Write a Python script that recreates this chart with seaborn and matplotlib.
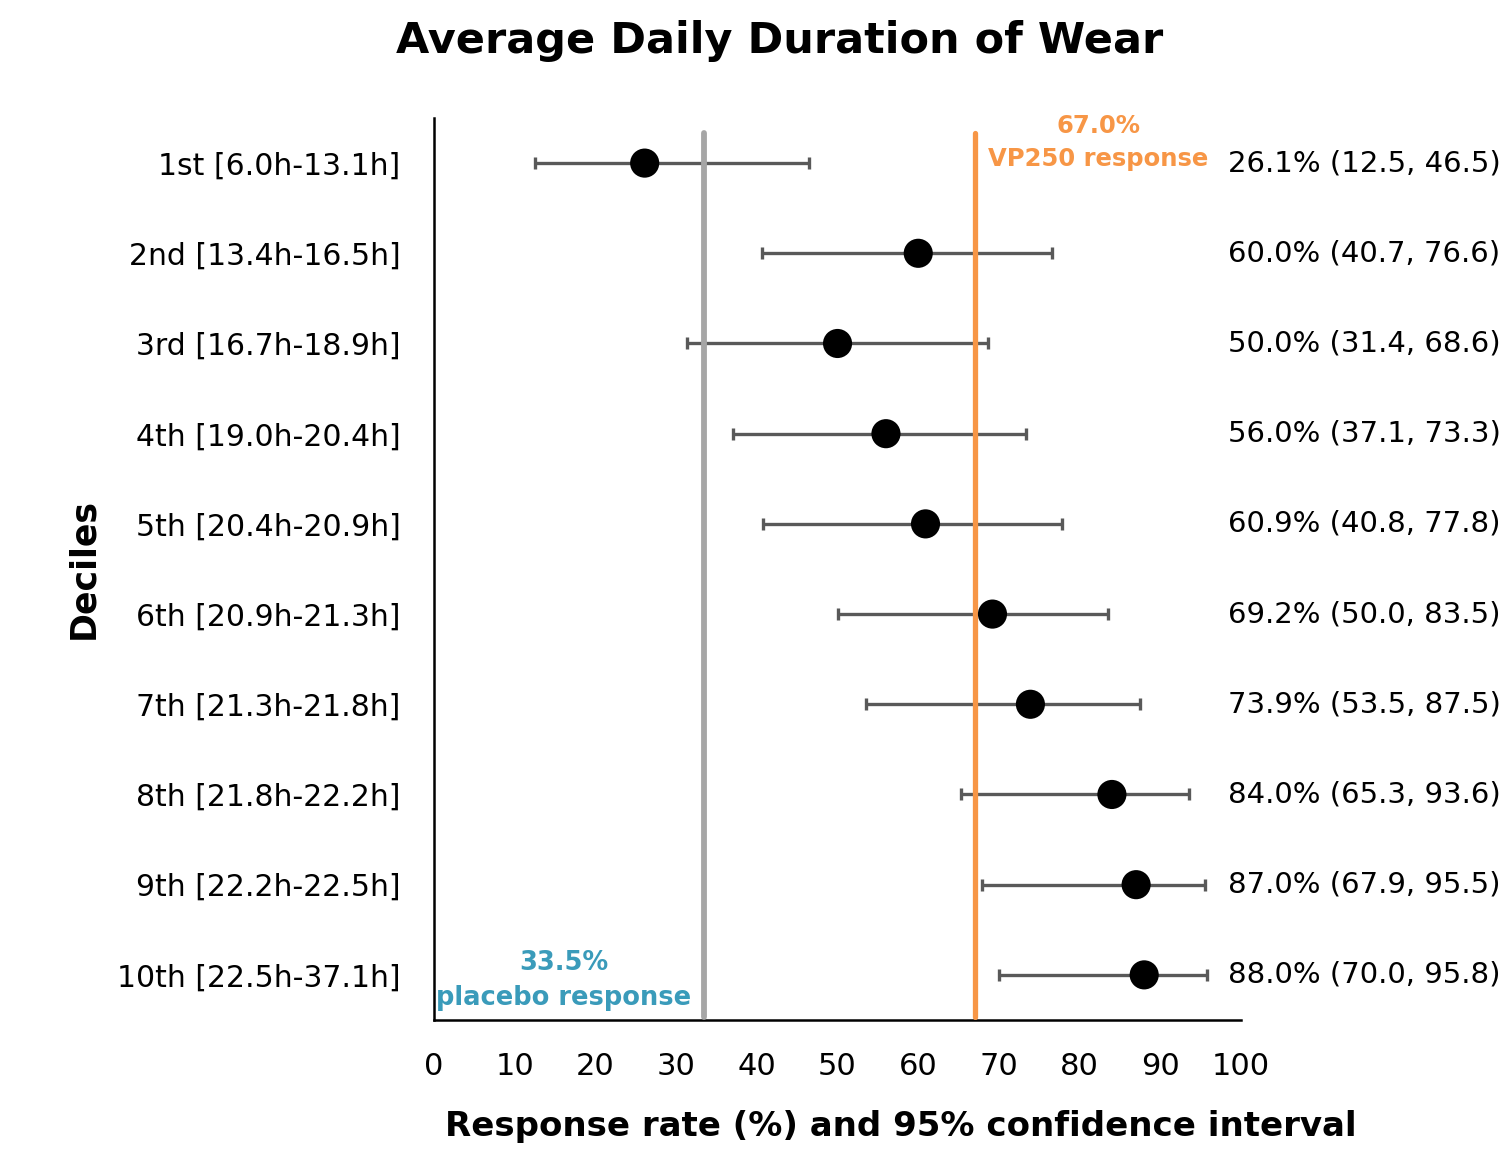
import matplotlib
matplotlib.use("Agg")
import matplotlib.pyplot as plt
import seaborn as sns
import pandas as pd

deciles = ["1st [6.0h-13.1h]", "2nd [13.4h-16.5h]", "3rd [16.7h-18.9h]",
           "4th [19.0h-20.4h]", "5th [20.4h-20.9h]", "6th [20.9h-21.3h]",
           "7th [21.3h-21.8h]", "8th [21.8h-22.2h]", "9th [22.2h-22.5h]",
           "10th [22.5h-37.1h]"]
rate = [26.1, 60.0, 50.0, 56.0, 60.9, 69.2, 73.9, 84.0, 87.0, 88.0]
ci_low = [12.5, 40.7, 31.4, 37.1, 40.8, 50.0, 53.5, 65.3, 67.9, 70.0]
ci_high = [46.5, 76.6, 68.6, 73.3, 77.8, 83.5, 87.5, 93.6, 95.5, 95.8]
placebo = 33.5
vp250 = 67.0
x_ticks = list(range(0, 101, 10))

df = pd.DataFrame({"decile": deciles, "rate": rate, "lo": ci_low, "hi": ci_high})
df["pos"] = range(len(df))

sns.set_theme(style="white")
plt.rcParams["font.family"] = ["DejaVu Sans"]
plt.rcParams["text.color"] = "black"
plt.rcParams["xtick.color"] = "black"
plt.rcParams["ytick.color"] = "black"
plt.rcParams["axes.labelcolor"] = "black"

fig = plt.figure(figsize=(15.03, 11.49), dpi=100)
ax = fig.add_axes([0.2888, 0.1123, 0.5369, 0.7850])

# confidence intervals
ax.errorbar(df["rate"], df["pos"],
            xerr=[df["rate"] - df["lo"], df["hi"] - df["rate"]],
            fmt="none", ecolor="#595959", elinewidth=2.4, capsize=4.5,
            capthick=2.4, zorder=2)

# reference lines
ax.axvline(placebo, ymin=0.003, ymax=0.983, color="#A6A6A6", lw=4.2, zorder=3)
ax.axvline(vp250, ymin=0.003, ymax=0.983, color="#F79646", lw=3.8, zorder=3)

# point estimates
sns.scatterplot(data=df, x="rate", y="pos", ax=ax, color="black", s=440,
                edgecolor="none", zorder=4, legend=False)

ax.set_xlim(0, 100)
ax.set_ylim(9.5, -0.5)
ax.set_xticks(x_ticks)
ax.set_xticklabels([str(t) for t in x_ticks])
ax.set_yticks(df["pos"])
ax.set_yticklabels(deciles)
ax.tick_params(axis="y", length=0, labelsize=21.5, pad=24)
ax.tick_params(axis="x", length=0, labelsize=22, pad=23)

for side in ["top", "right"]:
    ax.spines[side].set_visible(False)
for side in ["left", "bottom"]:
    ax.spines[side].set_color("black")
    ax.spines[side].set_linewidth(1.8)

ax.set_xlabel("Response rate (%) and 95% confidence interval",
              fontsize=24.5, fontweight="bold")
ax.xaxis.set_label_coords(0.579, -0.1)
ax.set_ylabel("Deciles", fontsize=25, fontweight="bold")
ax.yaxis.set_label_coords(-0.414, 0.5)

# value labels to the right
for p, r, lo, hi in zip(df["pos"], rate, ci_low, ci_high):
    ax.text(98.4, p, f"{r:.1f}% ({lo:.1f}, {hi:.1f})", fontsize=21,
            ha="left", va="center")

ax.text(82.3, -0.23, f"{vp250:.1f}%\nVP250 response", color="#F79646",
        fontsize=17.5, fontweight="bold", ha="center", va="center",
        linespacing=1.5)
ax.text(16.1, 9.06, f"{placebo:.1f}%\nplacebo response", color="#3A9BBA",
        fontsize=18.5, fontweight="bold", ha="center", va="center",
        linespacing=1.45)

fig.text(0.519, 0.964, "Average Daily Duration of Wear", fontsize=31,
         fontweight="bold", ha="center", va="center")

fig.savefig("out.png", dpi=100)
